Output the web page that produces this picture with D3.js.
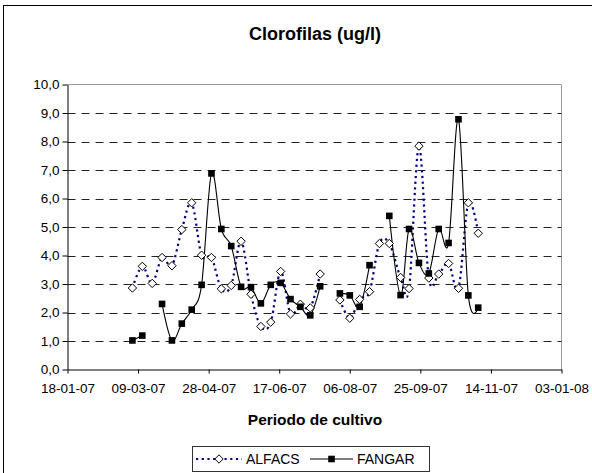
<!DOCTYPE html>
<html>
<head>
<meta charset="utf-8">
<script src="https://cdn.jsdelivr.net/npm/d3@7"></script>
<style>
  html, body { margin: 0; padding: 0; background: #fff; }
  svg { display: block; font-family: Arial, "Liberation Sans", sans-serif; }
</style>
</head>
<body>
<svg id="chart" width="592" height="473"></svg>
<script>
// Weekly sampling dates (2007)
const dates = [
  "2007-03-05","2007-03-12","2007-03-19","2007-03-26","2007-04-02","2007-04-09",
  "2007-04-16","2007-04-23","2007-04-30","2007-05-07","2007-05-14","2007-05-21",
  "2007-05-28","2007-06-04","2007-06-11","2007-06-18","2007-06-25","2007-07-02",
  "2007-07-09","2007-07-16","2007-07-23","2007-07-30","2007-08-06","2007-08-13",
  "2007-08-20","2007-08-27","2007-09-03","2007-09-11","2007-09-17","2007-09-24",
  "2007-10-01","2007-10-08","2007-10-15","2007-10-22","2007-10-29","2007-11-05"
];

// Chlorophyll (ug/l); null = no sample
const alfacs = [
  2.86, 3.62, 3.02, 3.93, 3.64, 4.91,
  5.85, 4.01, 3.93, 2.83, 2.95, 4.50,
  2.64, 1.51, 1.66, 3.44, 1.95, 2.29,
  2.16, 3.35, null, 2.44, 1.80, 2.46,
  2.73, 4.42, 4.42, 3.23, 2.84, 7.84,
  3.21, 3.35, 3.72, 2.85, 5.85, 4.78
];
const fangar = [
  1.02, 1.19, null, 2.30, 1.02, 1.61,
  2.10, 2.97, 6.88, 4.93, 4.33, 2.90,
  2.89, 2.32, 2.97, 3.04, 2.47, 2.20,
  1.90, 2.92, null, 2.67, 2.60, 2.20,
  3.66, null, 5.39, 2.61, 4.93, 3.74,
  3.37, 4.93, 4.44, 8.78, 2.60, 2.17
];

const xTicks = ["2007-01-18","2007-03-09","2007-04-28","2007-06-17","2007-08-06","2007-09-25","2007-11-14","2008-01-03"];
const yTicks = [0,1,2,3,4,5,6,7,8,9,10];
const seriesNames = ["ALFACS", "FANGAR"];

const parse = d3.utcParse("%Y-%m-%d");
const fmtDate = d3.utcFormat("%d-%m-%y");
const locale = d3.formatLocale({decimal: ",", thousands: ".", grouping: [3], currency: ["", "€"]});
const fmtVal = locale.format(".1f");
const FONT = "Arial, 'Liberation Sans', sans-serif";

const svg = d3.select("#chart");

// Outer chart frame
svg.append("rect")
  .attr("x", 3.5).attr("y", 5.5).attr("width", 600).attr("height", 480)
  .attr("fill", "#fff").attr("stroke", "#000").attr("stroke-width", 1);

const plot = {left: 67.5, right: 561.5, top: 84.5, bottom: 369.5};

const x = d3.scaleUtc()
  .domain([parse(xTicks[0]), parse(xTicks[xTicks.length - 1])])
  .range([plot.left, plot.right]);
const y = d3.scaleLinear().domain([0, 10]).range([plot.bottom, plot.top]);

// Plot area border (top/right)
svg.append("path")
  .attr("d", `M${plot.left},${plot.top}H${plot.right}V${plot.bottom}`)
  .attr("fill", "none").attr("stroke", "#9a9a9a").attr("stroke-width", 1);

// Dashed gridlines
svg.append("g").selectAll("line")
  .data(yTicks.filter(v => v > 0 && v < 10))
  .join("line")
  .attr("x1", plot.left).attr("x2", plot.right)
  .attr("y1", d => Math.round(y(d)) + 0.5).attr("y2", d => Math.round(y(d)) + 0.5)
  .attr("stroke", "#222").attr("stroke-width", 1)
  .attr("stroke-dasharray", "8,6");

// Y axis
const yAxis = svg.append("g")
  .attr("transform", `translate(${plot.left},0)`)
  .call(d3.axisLeft(y).tickValues(yTicks).tickFormat(fmtVal).tickSize(5).tickSizeOuter(0));
yAxis.select(".domain").attr("stroke", "#000");
yAxis.selectAll(".tick line").attr("stroke", "#000");
yAxis.selectAll(".tick text")
  .attr("x", -8).attr("fill", "#000")
  .style("font-size", "13.5px").style("font-family", FONT);

// X axis
const xAxis = svg.append("g")
  .attr("transform", `translate(0,${plot.bottom})`)
  .call(d3.axisBottom(x).tickValues(xTicks.map(parse)).tickFormat(fmtDate).tickSize(4).tickSizeOuter(0));
xAxis.select(".domain").attr("stroke", "#000");
xAxis.selectAll(".tick line").attr("stroke", "#000");
xAxis.selectAll(".tick text")
  .attr("y", 14).attr("fill", "#000")
  .style("font-size", "13.5px").style("font-family", FONT);

// Titles
svg.append("text")
  .attr("x", 315).attr("y", 40).attr("text-anchor", "middle")
  .attr("font-weight", "bold").attr("font-size", 18)
  .text("Clorofilas (ug/l)");
svg.append("text")
  .attr("x", 315).attr("y", 425).attr("text-anchor", "middle")
  .attr("font-weight", "bold").attr("font-size", 15.5)
  .text("Periodo de cultivo");

// Series data
const rowsA = dates.map((d, i) => ({date: parse(d), v: alfacs[i]}));
const rowsF = dates.map((d, i) => ({date: parse(d), v: fangar[i]}));

const line = d3.line()
  .defined(d => d.v !== null)
  .x(d => x(d.date)).y(d => y(d.v))
  .curve(d3.curveCardinal.tension(0));

const diamond = "M0,-4.2L4.2,0L0,4.2L-4.2,0Z";

// ALFACS: navy dotted smoothed line with hollow diamonds
svg.append("path").datum(rowsA)
  .attr("d", line).attr("fill", "none")
  .attr("stroke", "#000080").attr("stroke-width", 2.2)
  .attr("stroke-dasharray", "2.2,3.5");

// FANGAR: black solid smoothed line with filled squares
svg.append("path").datum(rowsF)
  .attr("d", line).attr("fill", "none")
  .attr("stroke", "#000").attr("stroke-width", 1.1);

svg.append("g").selectAll("path")
  .data(rowsA.filter(d => d.v !== null))
  .join("path")
  .attr("transform", d => `translate(${x(d.date)},${y(d.v)})`)
  .attr("d", diamond).attr("fill", "#fff").attr("stroke", "#000").attr("stroke-width", 1);

svg.append("g").selectAll("rect")
  .data(rowsF.filter(d => d.v !== null))
  .join("rect")
  .attr("x", d => x(d.date) - 3.3).attr("y", d => y(d.v) - 3.3)
  .attr("width", 6.6).attr("height", 6.6).attr("fill", "#000");

// Legend
const lg = svg.append("g");
lg.append("rect")
  .attr("x", 192.5).attr("y", 446.5).attr("width", 237).attr("height", 25)
  .attr("fill", "#fff").attr("stroke", "#333");
const ly = 459;
lg.append("line").attr("x1", 196).attr("x2", 242).attr("y1", ly).attr("y2", ly)
  .attr("stroke", "#000080").attr("stroke-width", 2.2).attr("stroke-dasharray", "2.2,3.5");
lg.append("path").attr("transform", `translate(219,${ly})`).attr("d", diamond)
  .attr("fill", "#fff").attr("stroke", "#000");
lg.append("text").attr("x", 246).attr("y", ly + 5).attr("font-size", 14).text(seriesNames[0]);
lg.append("line").attr("x1", 310).attr("x2", 353).attr("y1", ly).attr("y2", ly)
  .attr("stroke", "#000").attr("stroke-width", 1.1);
lg.append("rect").attr("x", 331.5 - 3.3).attr("y", ly - 3.3).attr("width", 6.6).attr("height", 6.6).attr("fill", "#000");
lg.append("text").attr("x", 357).attr("y", ly + 5).attr("font-size", 14).text(seriesNames[1]);
</script>
</body>
</html>
